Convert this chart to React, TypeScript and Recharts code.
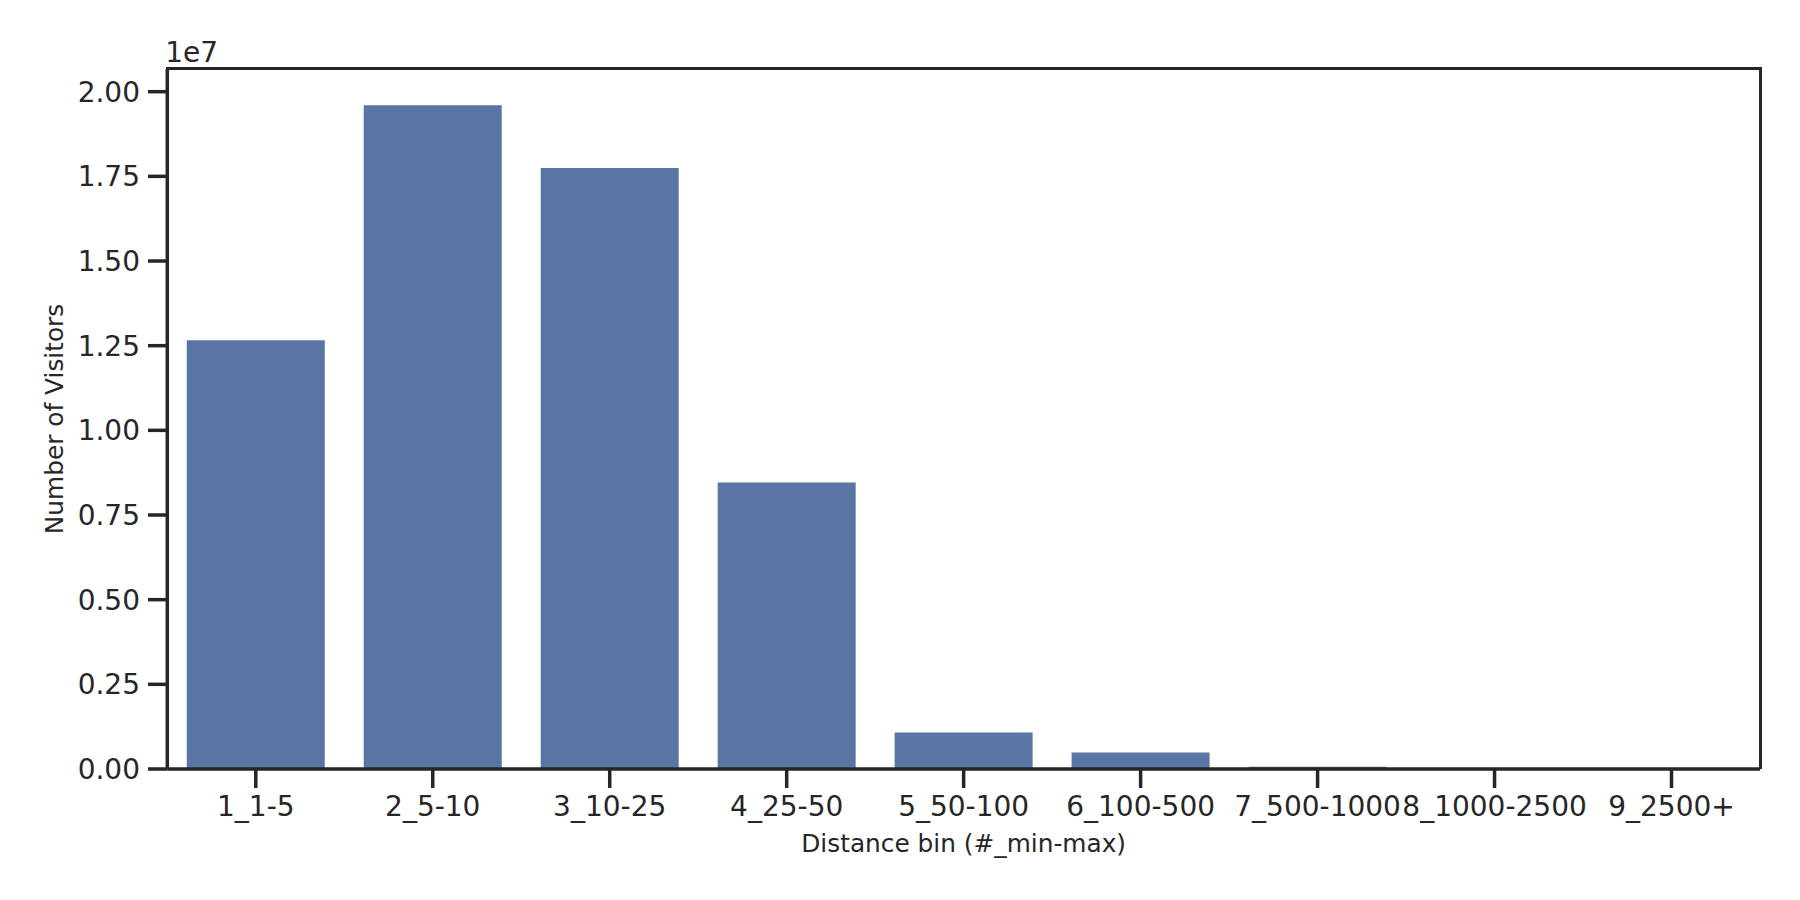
import { BarChart, Bar, XAxis, YAxis } from "recharts";

const bins = [
  "1_1-5",
  "2_5-10",
  "3_10-25",
  "4_25-50",
  "5_50-100",
  "6_100-500",
  "7_500-1000",
  "8_1000-2500",
  "9_2500+",
];
const visitors = [12660000, 19600000, 17750000, 8460000, 1080000, 490000, 65000, 4000, 1000];
const yTicks = [0, 2500000, 5000000, 7500000, 10000000, 12500000, 15000000, 17500000, 20000000];

const data = bins.map((bin, i) => ({ bin, visitors: visitors[i] }));

const INK = "#262626";
const FONT = "'DejaVu Sans', sans-serif";
const line = { stroke: INK, strokeWidth: 3.5 };

// plot box inside the chart, used for the frame overlay
const plot = { left: 159.3, top: 61, right: 1752, bottom: 760.8 };

const YLabel = (props: any) => {
  const { x, y, height } = props.viewBox;
  return (
    <text
      transform={`translate(${x + 46},${y + height / 2}) rotate(-90)`}
      textAnchor="middle"
      dominantBaseline="central"
      fill={INK}
      fontSize={24.8}
      fontFamily={FONT}
    >
      Number of Visitors
    </text>
  );
};

const XLabel = (props: any) => {
  const { x, y, width } = props.viewBox;
  return (
    <text
      x={x + width / 2}
      y={y + 74}
      textAnchor="middle"
      dominantBaseline="central"
      fill={INK}
      fontSize={24.8}
      fontFamily={FONT}
    >
      Distance bin (#_min-max)
    </text>
  );
};

export default function App() {
  return (
    <div style={{ position: "relative", width: 1784, height: 884, fontFamily: FONT }}>
      <BarChart
        width={1784}
        height={884}
        data={data}
        margin={{ top: plot.top, right: 1784 - plot.right, left: 0, bottom: 23 }}
        barCategoryGap="11%"
      >
        <XAxis
          dataKey="bin"
          type="category"
          interval={0}
          height={100}
          axisLine={line}
          tickLine={line}
          tickSize={19}
          tickMargin={8}
          tick={{ fill: INK, fontSize: 28, fontFamily: FONT }}
          label={{ content: XLabel }}
        />
        <YAxis
          type="number"
          width={plot.left}
          domain={[0, 20670000]}
          ticks={yTicks}
          axisLine={line}
          tickLine={line}
          tickSize={19.3}
          tickMargin={8}
          tickFormatter={(v: number) => (v / 1e7).toFixed(2)}
          tick={{ fill: INK, fontSize: 28, fontFamily: FONT }}
          label={{ content: YLabel }}
        />
        <Bar dataKey="visitors" fill="#5975a4" isAnimationActive={false} />
      </BarChart>
      {/* top and right spines */}
      <div
        style={{
          position: "absolute",
          boxSizing: "border-box",
          left: plot.left - 1.75,
          top: plot.top - 1.75,
          width: plot.right - plot.left + 3.5,
          height: plot.bottom - plot.top + 1.75,
          borderTop: `3.5px solid ${INK}`,
          borderRight: `3.5px solid ${INK}`,
          pointerEvents: "none",
        }}
      />
      <div
        style={{
          position: "absolute",
          left: plot.left - 2,
          top: plot.top - 32,
          fontSize: 28,
          lineHeight: "32px",
          color: INK,
        }}
      >
        1e7
      </div>
    </div>
  );
}
